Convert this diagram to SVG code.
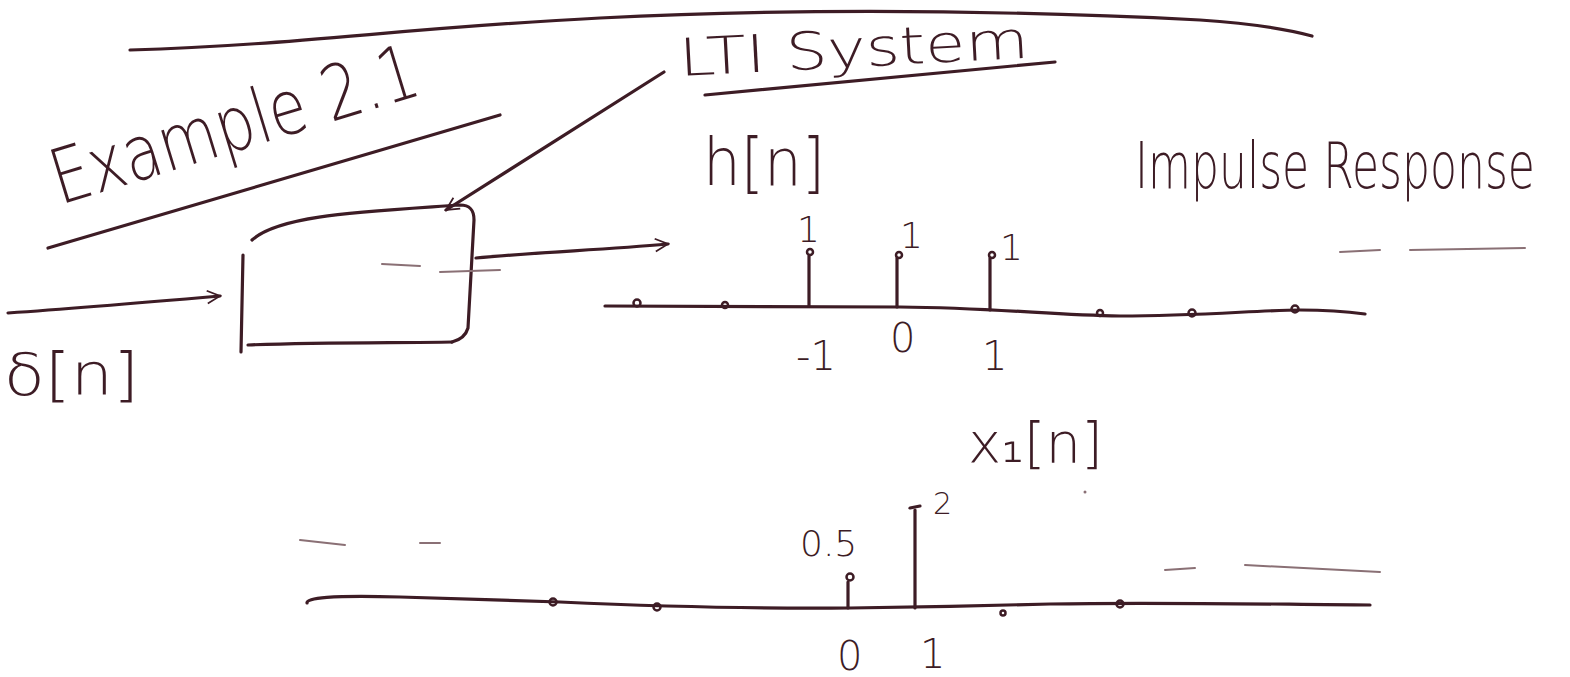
<svg xmlns="http://www.w3.org/2000/svg" width="1570" height="677" viewBox="0 0 1570 677">
<defs>
<style>
.ink{fill:none;stroke:#3d1c25;stroke-width:3.2;stroke-linecap:round;stroke-linejoin:round}
.faint{fill:none;stroke:#8a7075;stroke-width:2;stroke-linecap:round}
.dot{fill:none;stroke:#3d1c25;stroke-width:2.5}
.t{font-family:"DejaVu Sans",sans-serif;font-weight:200;fill:#3d1c25}
</style>
<marker id="arr" viewBox="0 0 20 20" refX="18" refY="10" markerWidth="16" markerHeight="16" markerUnits="userSpaceOnUse" orient="auto">
<path d="M2,2 L18,10 L2,18" fill="none" stroke="#3d1c25" stroke-width="2.2"/>
</marker>
</defs>
<rect width="1570" height="677" fill="#ffffff"/>

<g id="top-rule"><path class="ink" d="M130,50 C300,45 400,28 600,18 C800,8 1000,10 1200,20 C1260,24 1290,30 1312,36"/></g>

<g id="title">
<text class="t" x="60" y="205" font-size="76" textLength="380" lengthAdjust="spacingAndGlyphs" transform="rotate(-17 60 205)">Example 2.1</text>
<path class="ink" d="M48,248 L500,115"/>
</g>

<g id="lti-label">
<text class="t" x="680" y="76" font-size="52" textLength="350" lengthAdjust="spacingAndGlyphs" transform="rotate(-3 680 76)">LTI System</text>
<path class="ink" d="M705,95 L1055,62"/>
</g>

<g id="system-box">
<path class="ink" d="M243,255 L241,352"/>
<path class="ink" d="M252,240 C280,215 360,212 460,205 C470,205 474,210 474,220 L468,328 C466,335 460,340 452,342"/>
<path class="ink" d="M248,345 C320,342 400,343 452,342"/>
<path class="faint" d="M382,264 L420,266 M440,272 L500,270"/>
</g>

<g id="connectors">
<path class="ink" d="M8,313 C80,308 150,302 220,296" marker-end="url(#arr)"/>
<path class="ink" d="M476,258 C540,252 600,250 668,244" marker-end="url(#arr)"/>
<path class="ink" d="M664,72 L446,210" marker-end="url(#arr)"/>
</g>

<g id="delta-label"><text class="t" x="4" y="395" font-size="58" textLength="135" lengthAdjust="spacingAndGlyphs">δ[n]</text></g>

<g id="h-label">
<text class="t" x="703" y="185" font-size="66" textLength="122" lengthAdjust="spacingAndGlyphs">h[n]</text>
<text class="t" x="0" y="0" font-size="44" textLength="400" lengthAdjust="spacingAndGlyphs" transform="translate(1135 188) scale(1 1.45)">Impulse Response</text>
</g>

<g id="h-plot">
<path class="ink" d="M605,306 C700,306 800,306 900,307 C1000,308 1050,315 1120,316 C1200,316 1260,310 1300,310 C1330,310 1350,312 1365,314"/>
<circle class="dot" cx="637" cy="303" r="3.5"/>
<circle class="dot" cx="725" cy="305" r="3"/>
<circle class="dot" cx="1100" cy="313" r="3"/>
<circle class="dot" cx="1192" cy="313" r="3.5"/>
<circle class="dot" cx="1295" cy="309" r="3.5"/>
<path class="ink" d="M809,306 L809,256"/><circle class="dot" cx="810" cy="252" r="3"/>
<path class="ink" d="M897,307 L897,258"/><circle class="dot" cx="899" cy="255" r="3"/>
<path class="ink" d="M990,310 L990,258"/><circle class="dot" cx="992" cy="255" r="3"/>
<text class="t" x="797" y="242" font-size="36">1</text>
<text class="t" x="900" y="248" font-size="36">1</text>
<text class="t" x="1000" y="260" font-size="36">1</text>
<text class="t" x="796" y="370" font-size="40">-1</text>
<text class="t" x="890" y="352" font-size="40">0</text>
<text class="t" x="982" y="370" font-size="40">1</text>
<path class="faint" d="M1340,252 L1380,250 M1410,250 L1525,248"/>
</g>

<g id="x1-label"><text class="t" x="968" y="462" font-size="56" textLength="135" lengthAdjust="spacingAndGlyphs">x₁[n]</text></g>

<g id="x1-plot">
<path class="ink" d="M307,603 C306,598 330,595 400,597 C470,599 500,600 560,602 C650,606 750,609 850,608 C920,607 980,606 1050,604 C1150,602 1250,604 1370,605"/>
<circle class="dot" cx="553" cy="602" r="3.5"/>
<circle class="dot" cx="657" cy="607" r="3.5"/>
<circle class="dot" cx="1003" cy="613" r="2.5"/>
<circle class="dot" cx="1120" cy="604" r="3.5"/>
<path class="ink" d="M848,608 L848,582"/><circle class="dot" cx="850" cy="577" r="3.5"/>
<path class="ink" d="M915,608 L915,510"/><path class="ink" d="M910,508 L920,506"/>
<text class="t" x="800" y="556" font-size="36">0.5</text>
<text class="t" x="933" y="514" font-size="30">2</text>
<text class="t" x="837" y="670" font-size="40">0</text>
<text class="t" x="920" y="668" font-size="40">1</text>
<path class="faint" d="M300,540 L345,545 M420,543 L440,543 M1165,570 L1195,568 M1245,565 L1380,572"/>
<circle cx="1085" cy="492" r="1.5" fill="#8a7075"/>
</g>
</svg>
